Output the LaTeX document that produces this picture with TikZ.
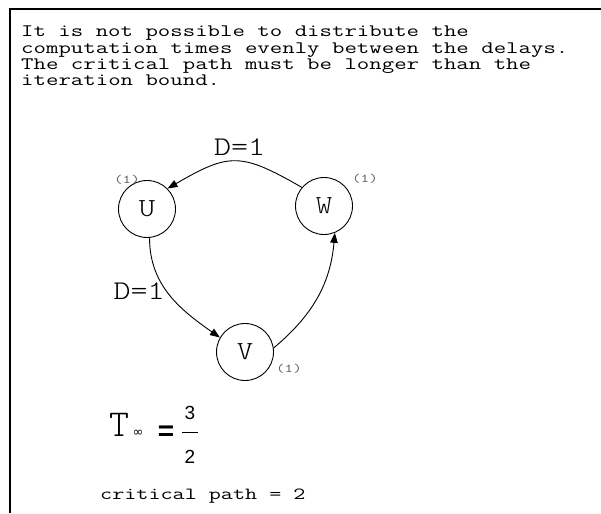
\documentclass[tikz,border=0pt]{standalone}
\usepackage{fontspec}
\usetikzlibrary{arrows.meta, positioning}
\newfontfamily\monofont[FakeStretch=1.38]{Latin Modern Mono}
\newfontfamily\labelmono[FakeStretch=1.2]{Latin Modern Mono Light}
\newfontfamily\plainmono{Latin Modern Mono Light}
\newfontfamily\digitsans{Liberation Sans}
\newfontfamily\symfont{DejaVu Sans}
\definecolor{weightgray}{RGB}{90,90,90}

\begin{document}
\begin{tikzpicture}[
    x=1pt, y=1pt,
    state/.style={circle, draw, line width=0.9pt, minimum size=57pt, inner sep=0pt, font=\labelmono\fontsize{26}{26}\selectfont},
    weight/.style={font=\monofont\fontsize{12}{12}\selectfont, text=weightgray, inner sep=0pt},
    delay/.style={font=\labelmono\fontsize{27}{27}\selectfont, inner sep=0pt},
    note/.style={font=\monofont\fontsize{17.5}{16.3}\selectfont, align=left, inner sep=0pt},
    arc/.style={-{Triangle[length=10pt,width=7.5pt]}, line width=0.9pt},
  ]
  \useasboundingbox (0,0) rectangle (601,513);
  % frame
  \draw[line width=2pt] (9.5,0) -- (9.5,503.5) -- (601,503.5);

  \node[note, anchor=north west] (intro) at (21,487) {It is not possible to distribute the\\computation times evenly between the delays.\\The critical path must be longer than the\\iteration bound.};

  % the loop
  \node[state] (U) at (147,304) {U};
  \node[state] (W) at (324,307) {W};
  \node[state] (V) at (245,161) {V};
  \node[weight] (wU) at (127,333) {(1)};
  \node[weight] (wW) at (365,334) {(1)};
  \node[weight] (wV) at (289,144) {(1)};
  \draw[arc] (W.140) to[out=150, in=30, looseness=1.35] node[delay, above=5pt, xshift=5pt] (dWU) {D=1} (U.45);
  \draw[arc] (U.-85) to[out=-90, in=145] node[delay, left=5pt, yshift=4pt] (dUV) {D=1} (V.150);
  \draw[arc] (V.8) to[out=40, in=-95] (W.-68);

  % iteration bound
  \node[font=\plainmono\fontsize{38}{38}\selectfont, inner sep=0pt, anchor=base west] (T) at (109,76) {T};
  \node[font=\symfont\fontsize{13}{13}\selectfont, inner sep=0pt, anchor=base west] (inf) at ([xshift=3pt]T.base east) {∞};
  \node[font=\digitsans\bfseries\fontsize{28}{28}\selectfont, inner sep=0pt] (eq) at (166,80) {=};
  \node[font=\digitsans\fontsize{19}{19}\selectfont, inner sep=0pt] (num) at (190,100) {3};
  \node[font=\digitsans\fontsize{19}{19}\selectfont, inner sep=0pt] (den) at (190,56) {2};
  \draw[line width=1pt] (182,80) -- (198,80);

  \node[font=\monofont\fontsize{17}{17}\selectfont, inner sep=0pt, anchor=base west] (crit) at (100,14) {critical path = 2};
\end{tikzpicture}
\end{document}
